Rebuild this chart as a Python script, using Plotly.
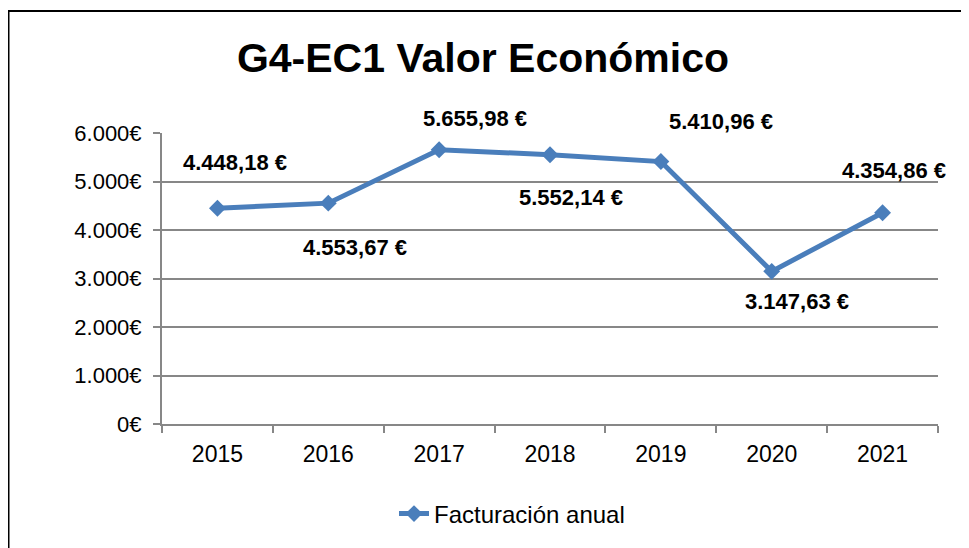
import plotly.graph_objects as go

years = ["2015", "2016", "2017", "2018", "2019", "2020", "2021"]
facturacion = [4448.18, 4553.67, 5655.98, 5552.14, 5410.96, 3147.63, 4354.86]
y_ticks = [0, 1000, 2000, 3000, 4000, 5000, 6000]

# label offsets in pixels (label centre relative to point)
label_dx = [18, 27, 36, 21, 60, 25, 11]
label_dy = [46, -44, 31, -43, 40, -30, 42]

BLUE = "#4A7EBB"
GRID = "#878787"
FONT = "Liberation Sans, Arial, sans-serif"
OFF = 8  # page body margin


def fmt_eur(v, dec=2, sep=" "):
    s = f"{v:,.{dec}f}"
    s = s.replace(",", "X").replace(".", ",").replace("X", ".")
    return s + sep + "€"


xpos = list(range(len(years)))
y_tick_text = [fmt_eur(v, 0, "") for v in y_ticks]

fig = go.Figure()
fig.add_trace(go.Scatter(
    x=xpos, y=facturacion, mode="lines+markers",
    name="Facturación anual",
    line=dict(color=BLUE, width=5),
    marker=dict(symbol="diamond", size=13, color=BLUE),
))

for xi, v, dx, dy in zip(xpos, facturacion, label_dx, label_dy):
    fig.add_annotation(
        x=xi, y=v, text="<b>" + fmt_eur(v) + "</b>", showarrow=False,
        xshift=dx, yshift=dy, xanchor="center", yanchor="middle",
        font=dict(family=FONT, size=22, color="black"),
    )

W, H = 969, 548
ml = 162 - OFF
mt = 133 - OFF
mr = W - (938 - OFF)
mb = H - (424 - OFF)
pw, ph = W - ml - mr, H - mt - mb


def px_x(p):
    return (p - OFF - ml) / pw


def px_y(p):
    return (H - mb - (p - OFF)) / ph


# outer chart frame (extends past the right and bottom edge)
fig.add_shape(
    type="rect", xref="paper", yref="paper",
    x0=px_x(8.5), x1=px_x(1000),
    y0=px_y(600), y1=px_y(11),
    line=dict(color="black", width=2), fillcolor="rgba(0,0,0,0)",
    layer="below",
)

fig.update_layout(
    width=W, height=H,
    margin=dict(l=ml, r=mr, t=mt, b=mb, autoexpand=False),
    paper_bgcolor="white", plot_bgcolor="white",
    font=dict(family=FONT, color="black", size=23),
    title=dict(
        text="<b>G4-EC1 Valor Económico</b>",
        font=dict(family=FONT, size=41, color="black"),
        x=(483 - OFF) / W, xanchor="center", xref="container",
        y=1 - (58 - OFF) / H, yanchor="middle", yref="container",
    ),
    showlegend=True,
    legend=dict(
        orientation="h", xref="container", yref="container",
        x=(512 - OFF) / W, xanchor="center", y=1 - (514 - OFF) / H, yanchor="middle",
        font=dict(family=FONT, size=24, color="black"),
        bgcolor="rgba(0,0,0,0)",
    ),
    xaxis=dict(
        range=[-0.5, len(years) - 0.5],
        tickmode="array", tickvals=xpos, ticktext=years, ticks="",
        minor=dict(tick0=-0.5, dtick=1, ticks="outside", ticklen=7,
                   tickcolor=GRID, tickwidth=2, showgrid=False),
        showline=True, linecolor=GRID, linewidth=2,
        showgrid=False, zeroline=False, automargin=False,
        tickfont=dict(family=FONT, size=23, color="black"),
        tickangle=0, ticklabelstandoff=8,
        fixedrange=True,
    ),
    yaxis=dict(
        range=[0, 6000], tickmode="array", tickvals=y_ticks, ticktext=y_tick_text,
        ticks="outside", ticklen=7, tickcolor=GRID, tickwidth=2,
        showline=True, linecolor=GRID, linewidth=2,
        showgrid=True, gridcolor=GRID, gridwidth=1.5,
        zeroline=False, automargin=False,
        tickfont=dict(family=FONT, size=22, color="black"),
        ticklabelstandoff=7,
        fixedrange=True,
    ),
)

fig.write_html("out.html")
